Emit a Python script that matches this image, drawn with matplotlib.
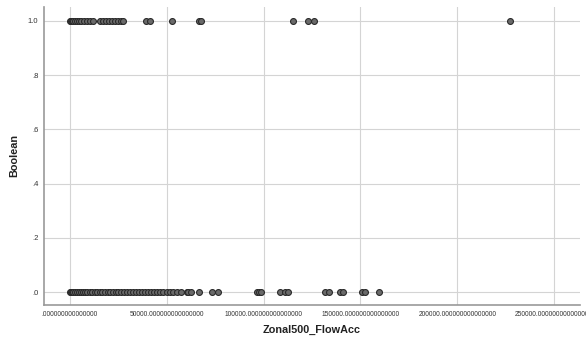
import matplotlib
matplotlib.use("Agg")
import matplotlib.pyplot as plt

plt.rcParams["font.family"] = ["Liberation Sans", "DejaVu Sans"]

x_one = [0, 500, 1000, 1500, 2600, 3600, 4600, 5700, 7200, 8800, 10300, 11900,
         15500, 17000, 18600, 20100, 21700, 23200, 24800, 26300, 27400,
         39300, 41300, 52700, 66600, 67700, 115200, 122900, 126000, 227300]
x_zero = [0, 500, 1000, 1500, 2600, 3600, 4600, 5700, 6700, 7700, 8800, 10300, 11400,
          12900, 13900, 15500, 16500, 18100, 19600, 20700, 22200, 23800, 24800, 26300,
          27900, 29400, 31000, 32500, 34100, 35600, 37200, 38700, 40300, 41800, 43400,
          44900, 46500, 48000, 50100, 51700, 53200, 55300, 57300, 60400, 60900, 62500,
          66600, 73300, 76400, 96400, 97800, 98700, 108500, 111000, 112800, 131700,
          133900, 139500, 140800, 150700, 152400, 159600]

x_ticks = [0, 50000, 100000, 150000, 200000, 250000]
x_tick_labels = [".000000000000000", "50000.000000000000000", "100000.000000000000000",
                 "150000.000000000000000", "200000.000000000000000", "250000.000000000000000"]
y_ticks = [0, 0.2, 0.4, 0.6, 0.8, 1.0]
y_tick_labels = [".0", ".2", ".4", ".6", ".8", "1.0"]

fig = plt.figure(figsize=(5.86, 3.42), dpi=100)
ax = fig.add_axes([0.075, 0.108, 0.915, 0.872])

ax.scatter(x_one, [1.0] * len(x_one), s=18, facecolor="#6a6a6a", edgecolor="#2a2a2a",
           linewidth=0.8, zorder=3)
ax.scatter(x_zero, [0.0] * len(x_zero), s=18, facecolor="#6a6a6a", edgecolor="#2a2a2a",
           linewidth=0.8, zorder=3)

ax.set_xlim(-13400, 263400)
ax.set_ylim(-0.048, 1.052)
ax.set_xticks(x_ticks)
ax.set_xticklabels(x_tick_labels, fontsize=4.8, color="#333333")
ax.set_yticks(y_ticks)
ax.set_yticklabels(y_tick_labels, fontsize=5.5, color="#333333")
ax.tick_params(axis="x", length=0, pad=4)
ax.tick_params(axis="y", length=0, pad=4)
ax.grid(True, color="#d4d4d4", linewidth=0.8)
ax.set_axisbelow(True)
for s in ["top", "right"]:
    ax.spines[s].set_visible(False)
for s in ["left", "bottom"]:
    ax.spines[s].set_color("#999999")
    ax.spines[s].set_linewidth(1.2)

ax.set_xlabel("Zonal500_FlowAcc", fontsize=7.8, fontweight="bold", color="#222222", labelpad=5)
ax.set_ylabel("Boolean", fontsize=7.8, fontweight="bold", color="#222222", labelpad=6)

fig.savefig("out.png", dpi=100)
